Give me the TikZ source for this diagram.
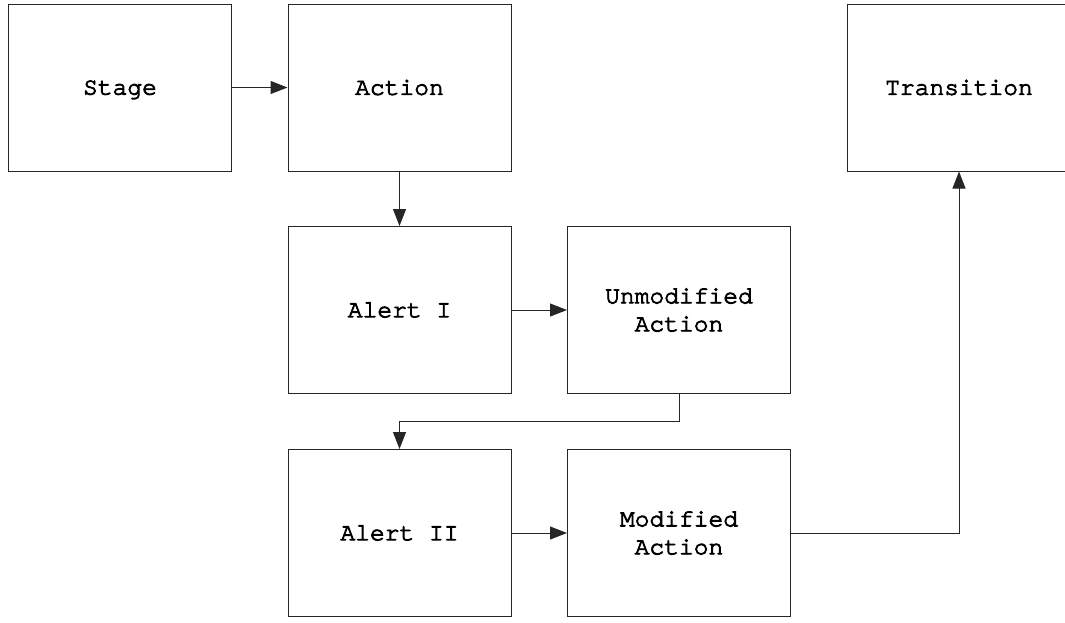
\documentclass[tikz,border=0pt]{standalone}
\usepackage{fontspec}
\newfontfamily\courtxtfam{TeX Gyre Cursor}[FakeBold=3.5, Ligatures=NoCommon]
\usetikzlibrary{arrows.meta}
\newcommand{\courtxt}{\courtxtfam\fontsize{24.6}{28}\selectfont}
\begin{document}
\begin{tikzpicture}[x=1pt,y=-1pt,
  box/.style={draw=black!85, line width=1pt, minimum width=223pt, minimum height=167pt, inner sep=0pt,
    font=\courtxt, align=center},
  conn/.style={draw=black!85, line width=1pt, -{Triangle[length=17pt,width=13pt]}}]
\useasboundingbox (0,0) rectangle (1065,622);
\node[box, text depth=0pt] (stage) at (120,87.5) {Stage};
\node[box] (action) at (399.5,87.5) {Action};
\node[box] (trans) at (959,87.5) {Transition};
\node[box] (alert1) at (399.5,310) {Alert I};
\node[box] (unmod) at (679,310) {Unmodified\\Action};
\node[box] (alert2) at (399.5,533) {Alert II};
\node[box] (mod) at (679,533) {Modified\\Action};
\draw[conn] (stage) -- (action);
\draw[conn] (action) -- (alert1);
\draw[conn] (alert1) -- (unmod);
\draw[conn] (unmod.south) -- ++(0,27) -| (alert2.north);
\draw[conn] (alert2) -- (mod);
\draw[conn] (mod.east) -| (trans.south);
\end{tikzpicture}
\end{document}
